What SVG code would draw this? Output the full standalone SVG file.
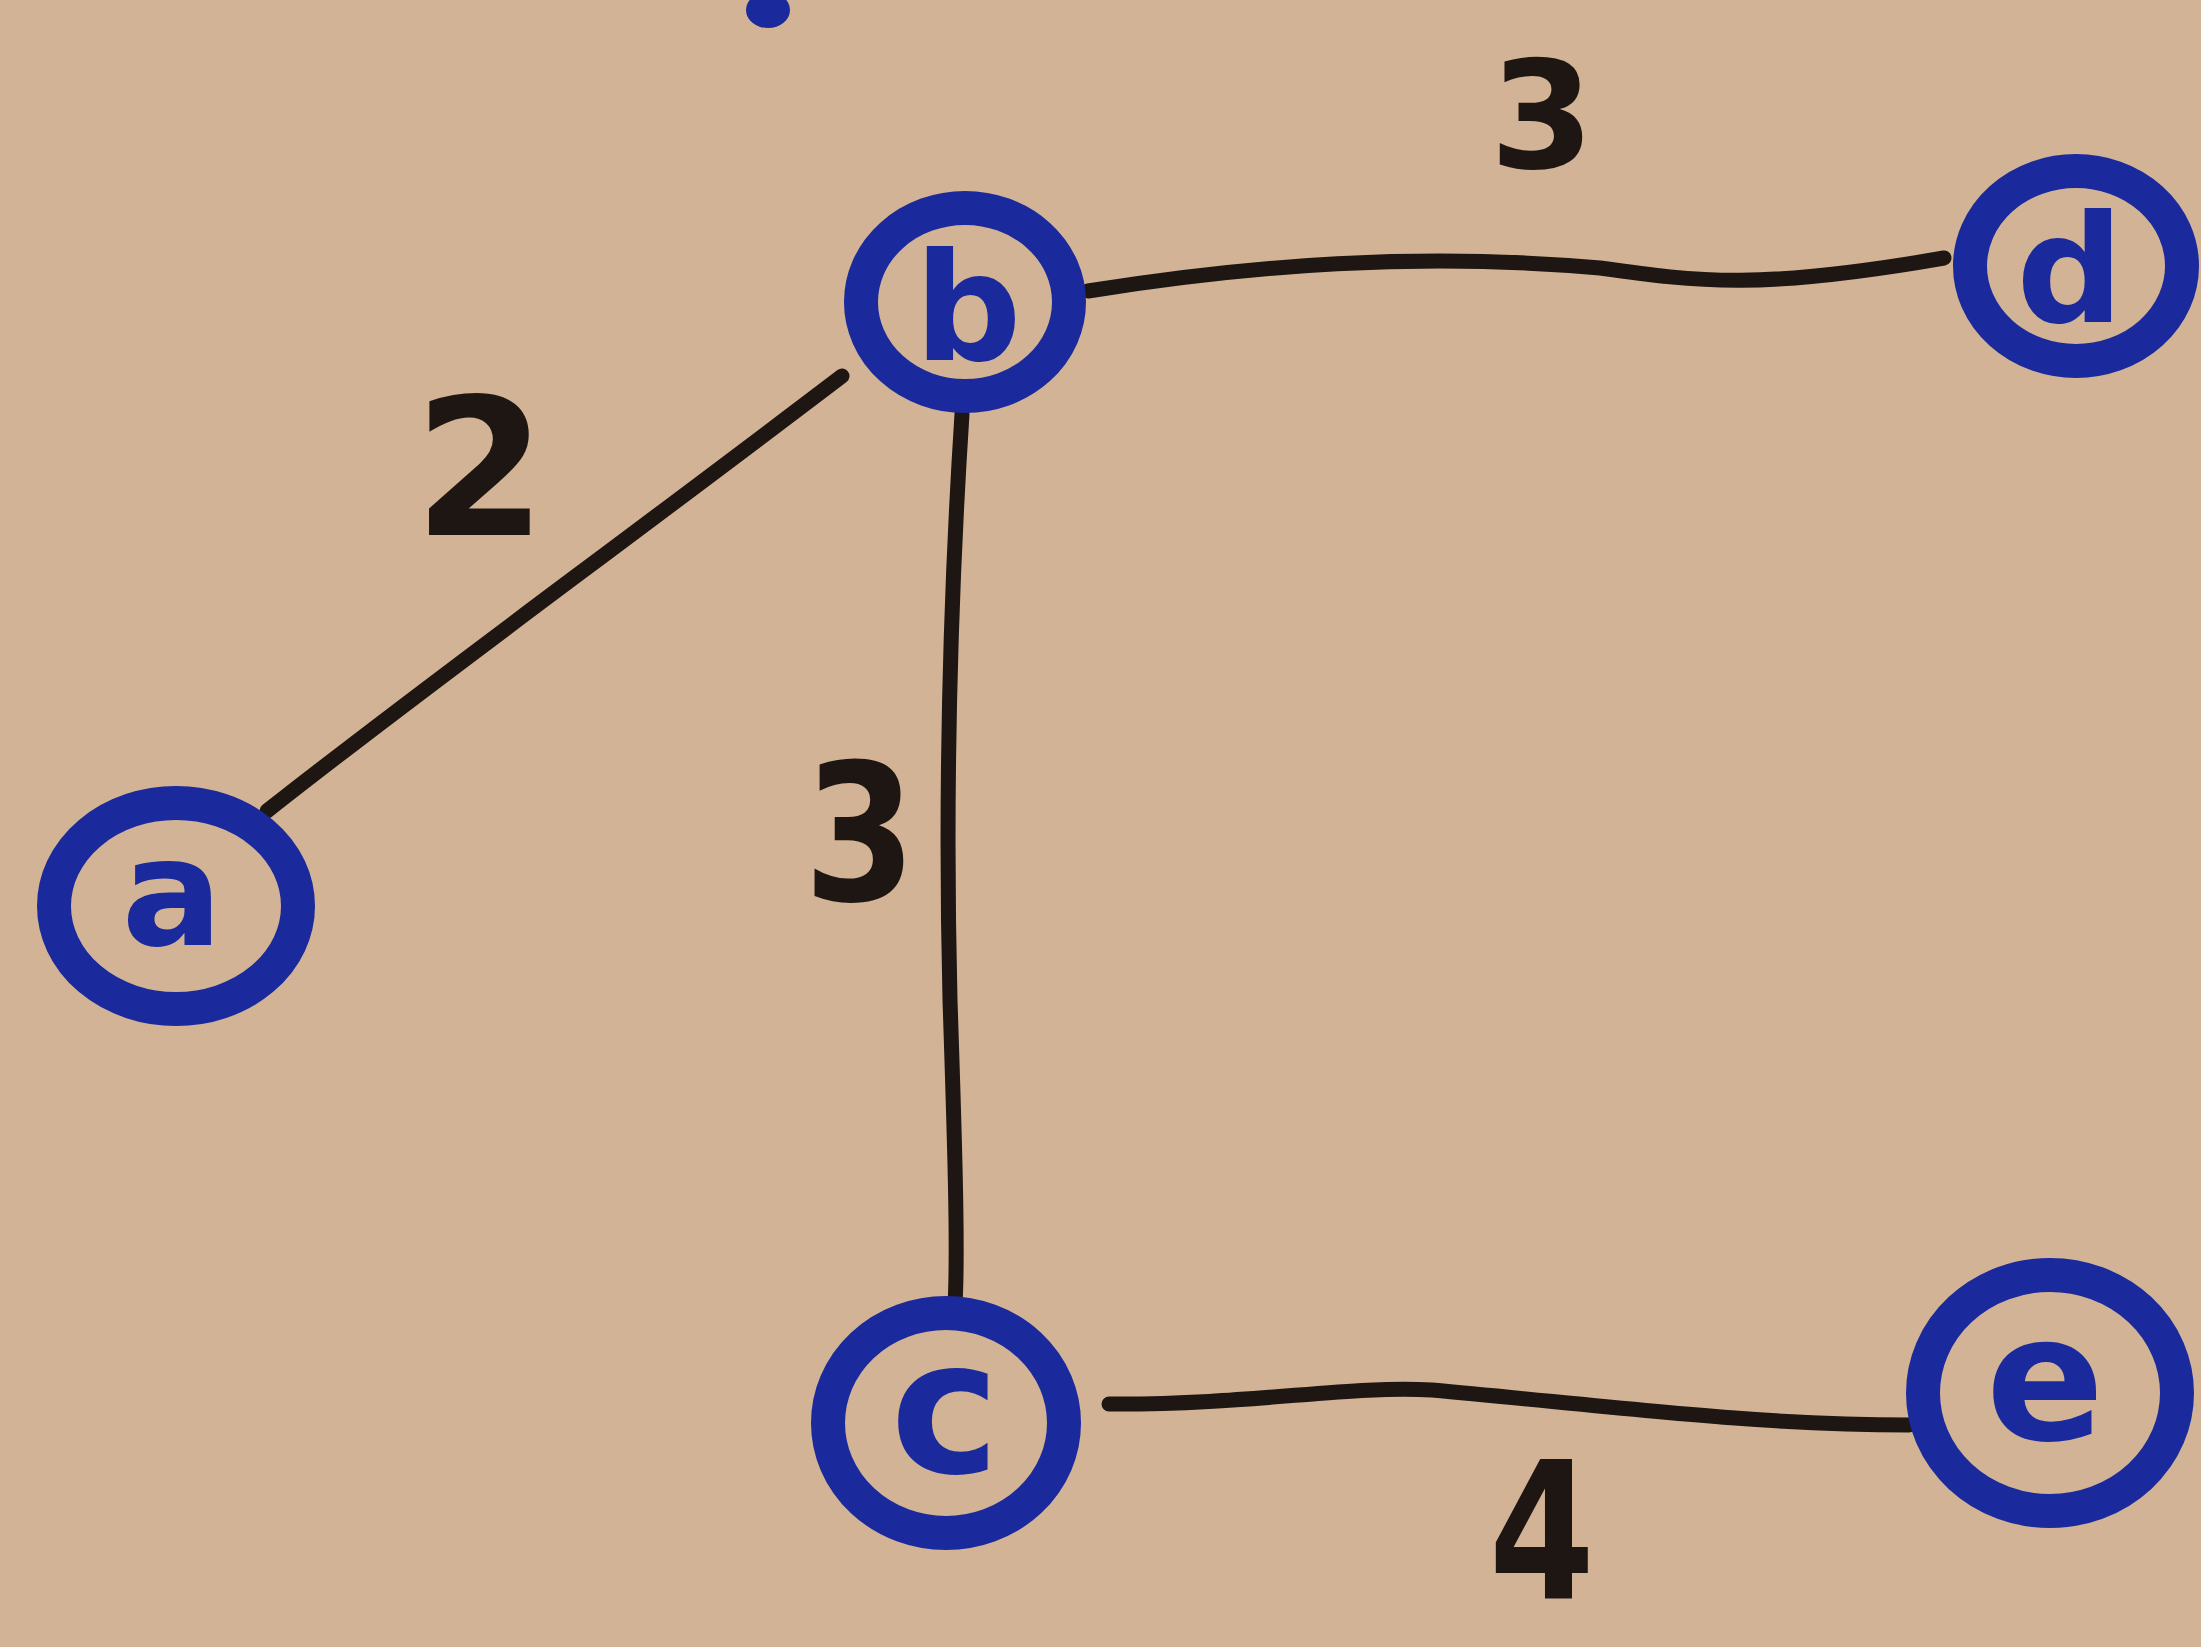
<svg xmlns="http://www.w3.org/2000/svg" width="2201" height="1647" viewBox="0 0 2201 1647">
<style>
.ring{fill:none;stroke:#1a2a9c;stroke-width:34}
.lt{font-family:"DejaVu Sans",sans-serif;font-weight:bold;fill:#1a2a9c;text-anchor:middle}
.edge{fill:none;stroke:#1e1613;stroke-width:15;stroke-linecap:round;stroke-linejoin:round}
.lbl{font-family:"DejaVu Sans",sans-serif;font-weight:bold;fill:#1e1613;text-anchor:middle}
</style>
<rect width="2201" height="1647" fill="#d3b395"/>
<ellipse cx="768" cy="10" rx="22" ry="18" fill="#1a2a9c"/>
<g id="edges">
<path class="edge" d="M267,811 C420,690 600,560 842,376"/>
<path class="edge" d="M1088,291 C1250,265 1420,252 1600,268 C1700,282 1760,290 1944,258"/>
<path class="edge" d="M962,414 C950,600 945,800 950,1000 C955,1150 958,1250 955,1305"/>
<path class="edge" d="M1109,1404 C1250,1405 1350,1385 1432,1390 C1600,1405 1750,1425 1909,1425"/>
</g>
<g id="labels">
<text class="lbl" x="480" y="535" font-size="190">2</text>
<text class="lbl" x="1542" y="168" font-size="150">3</text>
<text class="lbl" font-size="190" transform="translate(860,900) scale(0.85,1)">3</text>
<text class="lbl" font-size="190" transform="translate(1542,1598) scale(0.8,1)">4</text>
</g>
<g id="node-a"><ellipse class="ring" cx="176" cy="906" rx="122" ry="103"/><text class="lt" x="172" y="945" font-size="150">a</text></g>
<g id="node-b"><ellipse class="ring" cx="965" cy="302" rx="104" ry="94"/><text class="lt" x="968" y="360" font-size="150">b</text></g>
<g id="node-d"><ellipse class="ring" cx="2076" cy="266" rx="106" ry="95"/><text class="lt" x="2070" y="322" font-size="150">d</text></g>
<g id="node-c"><ellipse class="ring" cx="946" cy="1423" rx="118" ry="110"/><text class="lt" x="945" y="1472" font-size="185">c</text></g>
<g id="node-e"><ellipse class="ring" cx="2050" cy="1393" rx="127" ry="118"/><text class="lt" x="2045" y="1440" font-size="175">e</text></g>
</svg>
